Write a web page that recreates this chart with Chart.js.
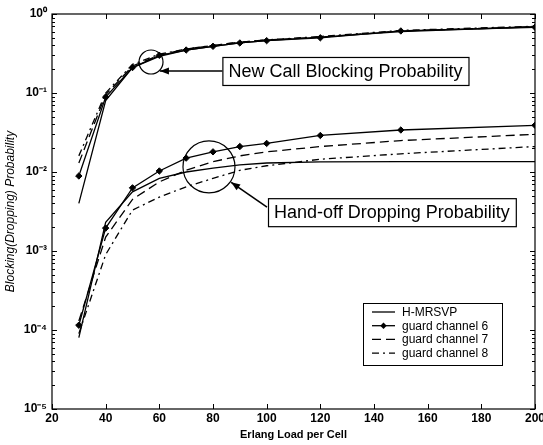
<!DOCTYPE html>
<html>
<head>
<meta charset="utf-8">
<script src="https://cdn.jsdelivr.net/npm/chart.js@4/dist/chart.umd.min.js"></script>
<style>
  html, body { margin: 0; padding: 0; background: #fff; }
  canvas { display: block; }
</style>
</head>
<body>
<canvas id="c" width="543" height="445"></canvas>
<script>
// ---- data ----
const loads = [30, 40, 50, 60, 70, 80, 90, 100, 120, 150, 200];

// New call blocking probability
const newHMRSVP = [0.0040, 0.080, 0.21, 0.29, 0.35, 0.39, 0.43, 0.46, 0.51, 0.60, 0.69];
const newGuard6 = [0.0089, 0.089, 0.21, 0.30, 0.35, 0.39, 0.43, 0.46, 0.50, 0.61, 0.68];
const newGuard7 = [0.013, 0.095, 0.22, 0.30, 0.36, 0.40, 0.44, 0.47, 0.51, 0.61, 0.69];
const newGuard8 = [0.016, 0.100, 0.23, 0.31, 0.36, 0.40, 0.44, 0.47, 0.52, 0.62, 0.70];

// Hand-off dropping probability
const hoHMRSVP = [8.0e-5, 2.3e-3, 5.6e-3, 8.3e-3, 0.0100, 0.0112, 0.0123, 0.0130, 0.0134, 0.0135, 0.0135];
const hoGuard6 = [1.15e-4, 1.95e-3, 6.3e-3, 0.0103, 0.0150, 0.0180, 0.0210, 0.0230, 0.0290, 0.0340, 0.0390];
const hoGuard7 = [1.3e-4, 1.5e-3, 4.5e-3, 7.5e-3, 0.0105, 0.0135, 0.0160, 0.0180, 0.0210, 0.0250, 0.0300];
const hoGuard8 = [9.0e-5, 9.0e-4, 3.3e-3, 4.8e-3, 6.5e-3, 8.3e-3, 0.0105, 0.0120, 0.0145, 0.0170, 0.0210];

const seriesNames = ['H-MRSVP', 'guard channel 6', 'guard channel 7', 'guard channel 8'];
const xTickValues = [20, 40, 60, 80, 100, 120, 140, 160, 180, 200];
const yTickValues = [1e-5, 1e-4, 1e-3, 1e-2, 1e-1, 1];
const yTickLabels = ['10\u207B\u2075', '10\u207B\u2074', '10\u207B\u00B3', '10\u207B\u00B2', '10\u207B\u00B9', '10\u2070'];
const xTitle = 'Erlang Load per Cell';
const yTitle = 'Blocking(Dropping) Probability';

// annotations (anchored in data coordinates)
const annotationTexts = ['New Call Blocking Probability', 'Hand-off Dropping Probability'];
const circleCenters = [[56.9, 0.247], [78.5, 0.0116]];
const boxAnchors = [[83.5, 0.19], [100.5, 0.0031]];

// ---- styles ----
const styles = [
  { dash: [], marker: false },
  { dash: [], marker: true },
  { dash: [9, 5], marker: false },
  { dash: [7, 4, 2, 4], marker: false }
];

function pts(ys) { return loads.map((x, i) => ({ x: x, y: ys[i] })); }
function ds(name, ys, k) {
  const s = styles[k];
  return {
    label: name,
    data: pts(ys),
    borderColor: '#000',
    backgroundColor: '#000',
    borderWidth: 1.3,
    borderDash: s.dash,
    tension: 0,
    pointStyle: 'rectRot',
    pointRadius: s.marker ? 3.2 : 0,
    pointBorderWidth: 1,
    pointBackgroundColor: '#000',
    fill: false
  };
}

const datasets = [
  ds(seriesNames[0], newHMRSVP, 0),
  ds(seriesNames[1], newGuard6, 1),
  ds(seriesNames[2], newGuard7, 2),
  ds(seriesNames[3], newGuard8, 3),
  ds(seriesNames[0], hoHMRSVP, 0),
  ds(seriesNames[1], hoGuard6, 1),
  ds(seriesNames[2], hoGuard7, 2),
  ds(seriesNames[3], hoGuard8, 3)
];

const FONT = "'Liberation Sans', Arial, Helvetica, sans-serif";

const decorPlugin = {
  id: 'decor',
  afterDatasetsDraw(chart) {
    const ctx = chart.ctx;
    const a = chart.chartArea;
    const xs = chart.scales.x, ys = chart.scales.y;
    ctx.save();
    ctx.strokeStyle = '#000';
    ctx.lineWidth = 1.2;
    ctx.setLineDash([]);
    ctx.strokeRect(a.left, a.top, a.right - a.left, a.bottom - a.top);
    ctx.lineWidth = 1;
    ctx.beginPath();
    // x ticks inward (bottom and top)
    xTickValues.forEach(v => {
      const p = Math.round(xs.getPixelForValue(v)) + 0.5;
      ctx.moveTo(p, a.bottom); ctx.lineTo(p, a.bottom - 5);
      ctx.moveTo(p, a.top); ctx.lineTo(p, a.top + 5);
    });
    // y ticks: majors and minors
    for (let e = -5; e <= 0; e++) {
      for (let m = 1; m <= 9; m++) {
        const v = m * Math.pow(10, e);
        if (v > 1.0000001) break;
        const p = Math.round(ys.getPixelForValue(v)) + 0.5;
        const len = m === 1 ? 5 : 3;
        ctx.moveTo(a.left, p); ctx.lineTo(a.left + len, p);
        ctx.moveTo(a.right, p); ctx.lineTo(a.right - len, p);
      }
    }
    ctx.stroke();
    ctx.restore();
  },
  afterDraw(chart) {
    const ctx = chart.ctx;
    const a = chart.chartArea;
    const xs = chart.scales.x, ys = chart.scales.y;
    ctx.save();
    ctx.strokeStyle = '#000';
    ctx.fillStyle = '#000';
    ctx.setLineDash([]);

    // ---- annotations ----
    const radii = [12, 26];
    ctx.font = '18px ' + FONT;
    ctx.textBaseline = 'middle';
    const circles = circleCenters.map((c, i) => ({ x: xs.getPixelForValue(c[0]), y: ys.getPixelForValue(c[1]), r: radii[i] }));
    circles.forEach(c => {
      ctx.lineWidth = 1.2;
      ctx.beginPath();
      ctx.arc(c.x, c.y, c.r, 0, Math.PI * 2);
      ctx.stroke();
    });
    const boxes = boxAnchors.map((b, i) => {
      const bx = xs.getPixelForValue(b[0]);
      const by = ys.getPixelForValue(b[1]);
      const w = ctx.measureText(annotationTexts[i]).width + 12;
      const h = 28;
      return { x: bx, y: by - h / 2, w: w, h: h };
    });
    boxes.forEach((b, i) => {
      ctx.fillStyle = '#fff';
      ctx.fillRect(b.x, b.y, b.w, b.h);
      ctx.lineWidth = 1.2;
      ctx.strokeRect(b.x + 0.5, b.y + 0.5, b.w, b.h);
      ctx.fillStyle = '#000';
      ctx.textAlign = 'left';
      ctx.fillText(annotationTexts[i], b.x + 6, b.y + b.h / 2 + 1);
    });
    // arrows
    function arrow(x1, y1, x2, y2) {
      ctx.lineWidth = 1.6;
      ctx.beginPath();
      ctx.moveTo(x1, y1); ctx.lineTo(x2, y2);
      ctx.stroke();
      const ang = Math.atan2(y2 - y1, x2 - x1);
      const L = 9, W = 3.5;
      ctx.beginPath();
      ctx.moveTo(x2, y2);
      ctx.lineTo(x2 - L * Math.cos(ang) + W * Math.sin(ang), y2 - L * Math.sin(ang) - W * Math.cos(ang));
      ctx.lineTo(x2 - L * Math.cos(ang) - W * Math.sin(ang), y2 - L * Math.sin(ang) + W * Math.cos(ang));
      ctx.closePath();
      ctx.fill();
    }
    {
      const b = boxes[0], c = circles[0];
      const yy = b.y + b.h / 2;
      arrow(b.x, yy, c.x + Math.sqrt(Math.max(0, c.r * c.r - (yy - c.y) * (yy - c.y))) + 1, yy);
    }
    {
      const b = boxes[1], c = circles[1];
      const sx = b.x - 1, sy = b.y + 9;
      const dx = c.x - sx, dy = c.y - sy;
      const d = Math.sqrt(dx * dx + dy * dy);
      arrow(sx, sy, c.x - dx / d * (c.r + 1), c.y - dy / d * (c.r + 1));
    }

    // ---- legend ----
    const lw = 139, lh = 62;
    const lx = a.right - 33 - lw, ly = a.bottom - 44 - lh;
    ctx.fillStyle = '#fff';
    ctx.fillRect(lx, ly, lw, lh);
    ctx.lineWidth = 1;
    ctx.strokeRect(lx + 0.5, ly + 0.5, lw, lh);
    ctx.font = '12px ' + FONT;
    ctx.textAlign = 'left';
    ctx.textBaseline = 'middle';
    seriesNames.forEach((name, i) => {
      const yy = ly + 9 + i * 13.7;
      const s = styles[i];
      ctx.strokeStyle = '#000';
      ctx.lineWidth = 1.3;
      ctx.setLineDash(s.dash);
      ctx.beginPath();
      ctx.moveTo(lx + 9, yy); ctx.lineTo(lx + 32, yy);
      ctx.stroke();
      ctx.setLineDash([]);
      if (s.marker) {
        const mx = lx + 20.5;
        ctx.fillStyle = '#000';
        ctx.beginPath();
        ctx.moveTo(mx, yy - 3.2); ctx.lineTo(mx + 3.2, yy); ctx.lineTo(mx, yy + 3.2); ctx.lineTo(mx - 3.2, yy);
        ctx.closePath();
        ctx.fill();
      }
      ctx.fillStyle = '#000';
      ctx.fillText(name, lx + 39, yy + 0.5);
    });
    ctx.restore();
  }
};

new Chart(document.getElementById('c'), {
  type: 'line',
  data: { datasets: datasets },
  plugins: [decorPlugin],
  options: {
    responsive: false,
    animation: false,
    events: [],
    layout: { padding: { top: 14, right: 8, left: 0, bottom: 0 } },
    plugins: { legend: { display: false }, tooltip: { enabled: false } },
    scales: {
      x: {
        type: 'linear', min: 20, max: 200,
        afterBuildTicks: s => { s.ticks = xTickValues.map(v => ({ value: v })); },
        ticks: { color: '#000', font: { family: FONT, size: 12, weight: 'bold' }, padding: 2, maxRotation: 0, autoSkip: false },
        grid: { display: false, drawTicks: false },
        border: { display: false },
        title: { display: true, text: xTitle, color: '#000', font: { family: FONT, size: 11, weight: 'bold' }, padding: { top: 2, bottom: 3 } },
        afterFit: s => { s.height = 36; s.paddingLeft = 0; s.paddingRight = 0; }
      },
      y: {
        type: 'logarithmic', min: 1e-5, max: 1,
        afterBuildTicks: s => { s.ticks = yTickValues.map(v => ({ value: v })); },
        ticks: {
          color: '#000', font: { family: FONT, size: 12, weight: 'bold' }, padding: 5, autoSkip: false,
          callback: (v) => { const i = yTickValues.findIndex(t => Math.abs(Math.log10(t) - Math.log10(v)) < 1e-6); return i >= 0 ? yTickLabels[i] : ''; }
        },
        grid: { display: false, drawTicks: false },
        border: { display: false },
        title: { display: true, text: yTitle, color: '#000', font: { family: FONT, size: 12, style: 'italic' }, padding: { top: 3, bottom: 0 } },
        afterFit: s => { s.width = 52; s.paddingTop = 0; s.paddingBottom = 0; }
      }
    }
  }
});
</script>
</body>
</html>
